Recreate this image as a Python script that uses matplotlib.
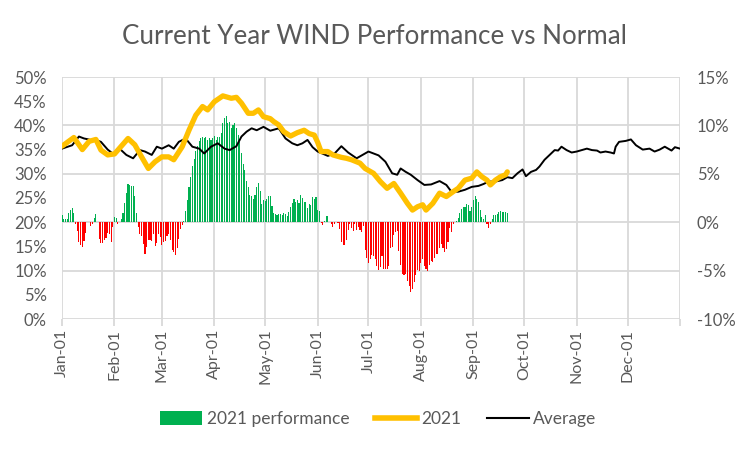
import matplotlib
matplotlib.use("Agg")
import matplotlib.pyplot as plt
from matplotlib.patches import Patch
from matplotlib.lines import Line2D
import numpy as np

plt.rcParams['font.family'] = ['Lato', 'DejaVu Sans']

# ---------------- data ----------------
month_days = [0, 31, 59, 90, 120, 151, 181, 212, 243, 273, 304, 334]
month_labels = ["Jan-01", "Feb-01", "Mar-01", "Apr-01", "May-01", "Jun-01",
                "Jul-01", "Aug-01", "Sep-01", "Oct-01", "Nov-01", "Dec-01"]

# daily 2021 performance vs normal (%), right axis, day 0 = Jan-01
perf_2021 = [
    0.7, 0.3, 0.3, 0.3, 0.9, 1.3, 1.5, 1.0, -0.2, -0.9,
    -2.0, -2.4, -2.6, -1.9, -1.1, 0.0, 0.05, -0.4, -0.2, 0.4,
    0.8, 0.0, -1.7, -2.1, -2.2, -1.8, -1.6, -1.1, -1.2, -2.0,
    -0.5, 0.5, 0.4, -0.2, 0.0, 0.3, 0.9, 2.0, 3.0, 3.9,
    3.8, 3.7, 3.7, 2.7, 1.0,
    -0.5, -1.2, -1.4, -2.3, -3.3, -2.6, -1.8, -1.8, -1.9, -1.2,
    -2.5, -2.2, -1.2, -1.5, -2.4, -2.0, -1.9, -1.4, -1.2, -1.8,
    -2.9, -3.1, -3.4, -2.7, -1.7, -0.7, -0.3, 0.1, 1.2, 2.3,
    3.6, 4.7, 5.8, 6.5, 7.4, 7.9, 8.4, 8.7, 8.8, 8.7,
    8.8, 8.5, 8.7, 8.5, 8.7, 8.9, 8.5,
    8.8, 8.8, 9.2, 10.2, 10.8, 11.0, 10.2, 10.3,
    9.7, 10.0, 10.2, 9.7, 9.0, 8.3, 7.1, 6.0, 5.4, 4.3,
    3.6, 2.8, 2.7, 2.4, 2.8, 3.6, 4.1, 3.2, 1.9, 2.3,
    2.2, 2.4, 2.7, 2.7, 1.7, 1.0, 0.8, 0.7, 0.8, 0.8,
    0.7, 1.0, 0.8, 0.6, 1.1, 1.6, 2.0, 2.4, 2.1, 2.3,
    2.0, 2.8, 2.5, 2.1, 2.1, 1.5, 1.9, 1.8, 2.6, 2.4,
    2.6, 1.3, 1.2, -0.1, -0.3, 0.1, 0.6, 0.6, 0.0, -0.2,
    -0.5, -0.2, 0.0, -0.1, -0.7, -2.0, -2.4, -2.4, -1.8, -0.8,
    -0.2, -0.6, -0.9, -0.2, -0.8, -0.5, -0.8, -1.0, -0.4, -2.9,
    -3.7, -4.2, -3.8, -3.4, -3.5, -3.8, -4.5,
    -4.9, -4.6, -3.5,
    -4.8, -4.8, -4.8, -4.5, -2.7, -2.6, -1.3, -1.0, -0.9, -3.0,
    -4.4, -5.4, -5.5, -5.3, -6.1, -6.6, -7.2, -6.9, -6.2, -5.5,
    -4.9, -5.0, -4.2, -3.8, -4.5, -4.8, -5.0, -4.4, -4.0, -4.1,
    -3.7, -3.3, -3.3, -2.7, -2.3, -2.7, -3.1, -2.8, -2.0, -0.6,
    -1.0, -0.2, 0.05, 0.1,
    0.4, 0.9, 1.4, 1.6, 1.6, 1.9,
    1.8, 1.2, 1.6, 2.3, 2.7, 2.4, 2.1, 1.3, 0.5, 0.3,
    0.7, -0.2, -0.6, -0.2, 0.3, 0.7, 0.7, 0.8, 1.1, 1.2,
    1.1, 1.1, 1.1, 1.0,
]

# 2021 rolling capacity factor (%), left axis
y2021_days = [0, 7, 12, 16, 20, 23, 27, 31, 35, 39, 43, 47, 51, 55, 59, 63, 66,
              71, 75, 79, 83, 86, 90, 95, 100, 103, 106, 110, 113, 116, 119,
              123, 125, 128, 131, 135, 139, 143, 146, 149, 151, 153, 157, 160,
              165, 168, 171, 176, 179, 184, 188, 192, 196, 200, 204, 207, 210,
              213, 215, 219, 223, 227, 231, 234, 238, 242, 245, 248, 251, 253,
              256, 259, 262, 263]
y2021_vals = [35.7, 37.5, 35.0, 36.7, 37.1, 34.9, 33.9, 34.1, 35.7, 37.3, 36.0,
              33.5, 31.1, 32.5, 33.5, 33.5, 32.9, 35.6, 39.0, 42.1, 43.9, 43.2,
              44.9, 46.1, 45.6, 45.8, 44.6, 42.5, 42.5, 43.2, 41.8, 41.4, 40.8,
              40.1, 38.7, 37.8, 38.5, 39.0, 38.3, 38.0, 36.5, 34.6, 34.6, 33.9,
              33.4, 33.2, 32.9, 32.2, 31.1, 30.1, 28.4, 27.0, 28.0, 26.0, 23.9,
              22.5, 23.2, 23.6, 22.5, 23.9, 26.0, 25.3, 26.3, 27.0, 28.7, 29.1,
              30.4, 29.4, 28.7, 27.7, 28.7, 29.4, 29.8, 30.4]

# long-term average (%), left axis
avg_days = [0, 6, 10, 13, 17, 20, 23, 27, 31, 34, 38, 42, 46, 49, 53, 56, 59,
            63, 66, 69, 73, 77, 81, 84, 88, 92, 96, 99, 103, 106, 109, 112,
            115, 119, 123, 128, 132, 136, 139, 142, 145, 148, 151, 157, 161,
            165, 169, 174, 181, 187, 191, 195, 198, 200, 203, 206, 210, 214,
            218, 223, 227, 230, 234, 238, 242, 246, 249, 252, 256, 260, 263,
            266, 269, 272, 274, 277, 280, 282, 285, 288, 291, 293, 295, 298,
            301, 304, 307, 310, 313, 316, 318, 321, 324, 326, 327, 329, 333,
            336, 339, 343, 347, 350, 353, 356, 360, 362, 365]
avg_vals = [35.2, 35.9, 37.7, 37.3, 37.0, 37.0, 36.6, 35.0, 33.9, 35.2, 33.9,
            33.2, 34.9, 34.6, 33.9, 35.6, 35.2, 35.9, 35.2, 36.6, 37.3, 35.6,
            35.2, 34.2, 35.6, 36.3, 35.2, 34.9, 35.7, 37.7, 38.7, 39.4, 39.0,
            39.7, 38.9, 39.4, 37.3, 36.3, 35.9, 36.3, 37.0, 35.5, 34.6, 33.7,
            34.2, 35.7, 34.4, 33.2, 34.6, 33.8, 32.5, 30.1, 29.8, 31.1, 30.4,
            29.8, 28.7, 27.7, 27.8, 28.5, 27.7, 26.3, 26.3, 26.7, 27.3, 27.5,
            27.9, 28.4, 28.4, 28.7, 29.3, 29.1, 30.1, 30.9, 29.5, 30.4, 30.8,
            31.5, 32.9, 33.9, 34.9, 34.8, 35.6, 34.9, 34.4, 34.6, 34.9, 35.2,
            34.9, 34.8, 34.4, 34.6, 34.4, 34.2, 35.6, 36.6, 36.8, 37.1, 35.9,
            35.0, 35.2, 34.6, 35.0, 35.6, 34.8, 35.5, 35.2]

left_ticks = list(range(0, 51, 5))
right_ticks = list(range(-10, 16, 5))

# ---------------- style ----------------
GREEN = "#00B050"
RED = "#FF0000"
YELLOW = "#FFC000"
GRID = "#D9D9D9"
TXT = "#595959"

fig = plt.figure(figsize=(7.48, 4.5), dpi=100)
ax = fig.add_axes([62 / 748, 131 / 450, 618 / 748, 242 / 450])
ax2 = ax.twinx()

days = np.arange(len(perf_2021))
colors = [GREEN if v >= 0 else RED for v in perf_2021]
ax.bar(days, perf_2021, width=0.65, color=colors, linewidth=0, zorder=2)
ax.set_ylim(-10, 15)
ax.set_xlim(0, 365)
ax.yaxis.tick_right()
ax.set_yticks(right_ticks)
ax.set_yticklabels([f"{v}%" for v in right_ticks])
ax.set_xticks(month_days + [365])
ax.set_xticklabels(month_labels + [""], rotation=90)
ax.grid(True, color=GRID, linewidth=1.3, zorder=0)
ax.set_axisbelow(True)

ax2.yaxis.tick_left()
ax2.plot(avg_days, avg_vals, color="black", linewidth=1.4, zorder=3)
ax2.plot(y2021_days, y2021_vals, color=YELLOW, linewidth=3.8,
         solid_capstyle="round", solid_joinstyle="round", zorder=4)
ax2.set_ylim(0, 50)
ax2.set_xlim(0, 365)
ax2.set_yticks(left_ticks)
ax2.set_yticklabels([f"{v}%" for v in left_ticks])

for a in (ax, ax2):
    for s in a.spines.values():
        s.set_visible(False)
    a.tick_params(axis="y", length=0, labelsize=12, labelcolor=TXT)
ax.tick_params(axis="y", pad=12)
ax2.tick_params(axis="y", pad=11)
ax.tick_params(axis="x", length=5, width=1.3, color=GRID, labelsize=11.5,
               labelcolor=TXT, pad=2)
ax2.tick_params(axis="x", length=0, labelbottom=False)

fig.text(0.5, 1 - 37 / 450, "Current Year WIND Performance vs Normal",
         ha="center", va="center", fontsize=18.7, color=TXT)

handles = [Patch(facecolor=GREEN, edgecolor="none"),
           Line2D([], [], color=YELLOW, linewidth=4),
           Line2D([], [], color="black", linewidth=1.5)]
fig.legend(handles, ["2021 performance", "2021", "Average"], loc="center",
           bbox_to_anchor=(0.506, 1 - 419 / 450), ncol=3, frameon=False,
           fontsize=12.5, labelcolor=TXT, handlelength=2.4, handleheight=0.8,
           handletextpad=0.25, columnspacing=1.5)

fig.savefig("out.png", dpi=100)
